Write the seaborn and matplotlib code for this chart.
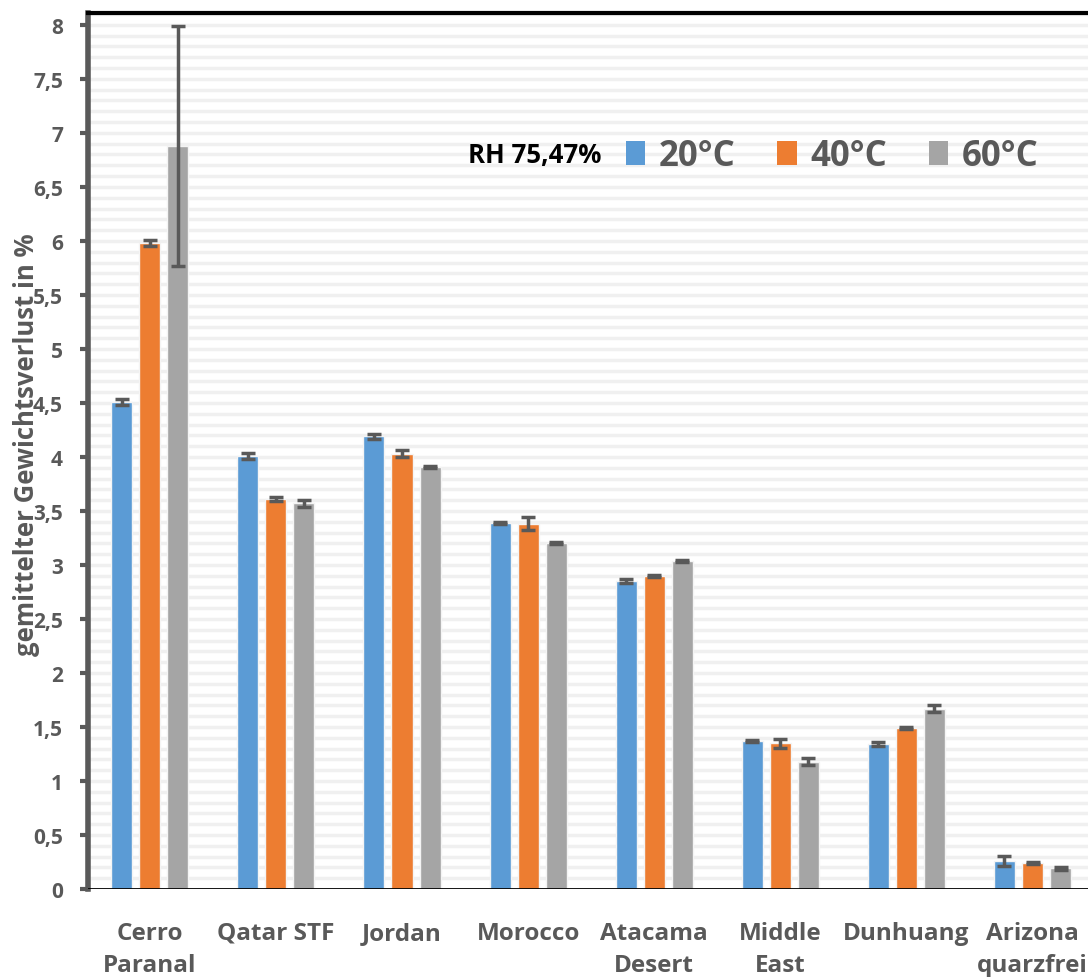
import numpy as np
import pandas as pd
import matplotlib
matplotlib.use("Agg")
import matplotlib.pyplot as plt
import seaborn as sns
from matplotlib.patches import Patch
from matplotlib.ticker import MultipleLocator, FuncFormatter

# =========================
# Data
# =========================
sites = ["Cerro\nParanal", "Qatar STF", "Jordan", "Morocco", "Atacama\nDesert",
         "Middle\nEast", "Dunhuang", "Arizona\nquarzfrei"]
temps = ["20°C", "40°C", "60°C"]

loss_20 = [4.51, 4.01, 4.19, 3.39, 2.85, 1.37, 1.34, 0.26]
loss_40 = [5.98, 3.61, 4.03, 3.38, 2.90, 1.35, 1.49, 0.24]
loss_60 = [6.88, 3.57, 3.91, 3.20, 3.04, 1.18, 1.67, 0.19]

err_20 = [0.03, 0.03, 0.02, 0.01, 0.02, 0.01, 0.02, 0.05]
err_40 = [0.03, 0.02, 0.03, 0.06, 0.01, 0.04, 0.01, 0.01]
err_60 = [1.11, 0.03, 0.01, 0.01, 0.01, 0.03, 0.03, 0.01]

colors = ["#5b9bd5", "#ed7d31", "#a5a5a5"]
grey = "#595959"

df = pd.DataFrame({
    "site": sites * 3,
    "temp": np.repeat(temps, len(sites)),
    "loss": loss_20 + loss_40 + loss_60,
    "err": err_20 + err_40 + err_60,
})

# =========================
# Plot
# =========================
sns.set_style("white")
plt.rcParams["font.family"] = ["Open Sans", "DejaVu Sans"]
plt.rcParams["font.weight"] = "bold"

fig = plt.figure(figsize=(10.88, 9.78), dpi=100)
ax = fig.add_axes([88 / 1088, 88 / 978, 1 - 88 / 1088, 876 / 978])

sns.barplot(data=df, x="site", y="loss", hue="temp", palette=colors, saturation=1,
            width=0.667, gap=0.25, errorbar=None, legend=False, ax=ax,
            edgecolor="#f4f4f4", linewidth=1, zorder=3)

# error bars, one per bar patch (patches ordered by hue then site)
bars = [p for p in ax.patches if p.get_height() > 0]
for p, (_, row) in zip(bars, df.iterrows()):
    xc = p.get_x() + p.get_width() / 2
    ax.errorbar(xc, row["loss"], yerr=row["err"], fmt="none", ecolor=grey,
                elinewidth=2.5, capsize=5, capthick=2.5, zorder=4)

# horizontal stripes every 0.1
for yv in np.arange(0.1, 8.15, 0.1):
    ax.axhline(yv, color="#f0f0f0", lw=2.5, zorder=0)
ax.axhline(0, color="black", lw=2, zorder=5)

ax.set_xlim(-0.49, 7.44)
ax.set_ylim(0, 8.11)
ax.yaxis.set_major_locator(MultipleLocator(0.5))
ax.yaxis.set_major_formatter(FuncFormatter(lambda v, _: f"{v:g}".replace(".", ",")))

ax.tick_params(axis="y", direction="out", length=6, width=3, color=grey,
               labelsize=15, labelcolor=grey, pad=12, left=True)
ax.tick_params(axis="x", length=0, labelsize=17.5, labelcolor=grey, pad=23)
plt.setp(ax.get_xticklabels(), fontweight="bold", linespacing=1.45, va="top")
plt.setp(ax.get_yticklabels(), fontweight="bold")

ax.spines["left"].set_color(grey)
ax.spines["left"].set_linewidth(4)
ax.spines["top"].set_color("black")
ax.spines["top"].set_linewidth(3)
ax.spines["right"].set_visible(False)
ax.spines["bottom"].set_visible(False)

ax.set_xlabel("")
ax.set_ylabel("")
fig.text(27 / 1088, 1 - 445 / 978, "gemittelter Gewichtsverlust in %", fontsize=18.5,
         color=grey, fontweight="bold", rotation=90, ha="center", va="center")

# legend
handles = [Patch(facecolor=c, edgecolor="none") for c in colors]
leg = ax.legend(handles, temps, loc="center left", ncol=3, frameon=False,
                bbox_to_anchor=(626 / 1088, 1 - 157 / 978), bbox_transform=fig.transFigure,
                prop={"size": 25, "weight": "bold"}, handlelength=0.55, handleheight=0.7,
                handletextpad=0.4, columnspacing=1.2, borderaxespad=0, borderpad=0)
for t in leg.get_texts():
    t.set_color(grey)
fig.text(468 / 1088, 1 - 155 / 978, "RH 75,47%", fontsize=18.5, fontweight="bold",
         color="black", va="center", ha="left")

fig.savefig("out.png", dpi=100)
